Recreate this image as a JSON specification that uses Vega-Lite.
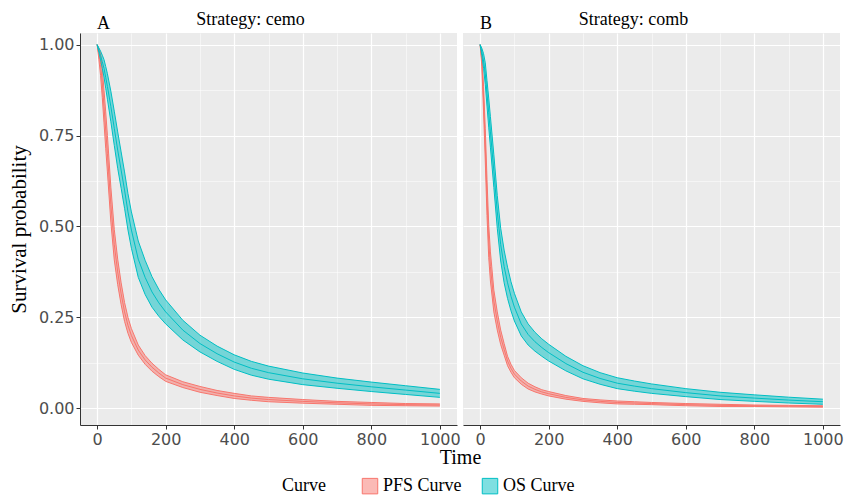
{
  "$schema": "https://vega.github.io/schema/vega-lite/v6.json",
  "padding": {"left": 8, "top": 10, "right": 0, "bottom": 0},
  "background": "#FFFFFF",
  "data": {"values": [
    {"strategy":"cemo","curve":"PFS Curve","time":0,"est":1,"lo":1,"hi":1},
    {"strategy":"cemo","curve":"PFS Curve","time":5,"est":0.975,"lo":0.96,"hi":0.99},
    {"strategy":"cemo","curve":"PFS Curve","time":10,"est":0.945,"lo":0.915,"hi":0.975},
    {"strategy":"cemo","curve":"PFS Curve","time":15,"est":0.895,"lo":0.855,"hi":0.935},
    {"strategy":"cemo","curve":"PFS Curve","time":20,"est":0.83,"lo":0.785,"hi":0.875},
    {"strategy":"cemo","curve":"PFS Curve","time":25,"est":0.765,"lo":0.715,"hi":0.815},
    {"strategy":"cemo","curve":"PFS Curve","time":30,"est":0.7,"lo":0.65,"hi":0.75},
    {"strategy":"cemo","curve":"PFS Curve","time":40,"est":0.56,"lo":0.512,"hi":0.608},
    {"strategy":"cemo","curve":"PFS Curve","time":50,"est":0.45,"lo":0.408,"hi":0.492},
    {"strategy":"cemo","curve":"PFS Curve","time":60,"est":0.375,"lo":0.34,"hi":0.41},
    {"strategy":"cemo","curve":"PFS Curve","time":70,"est":0.315,"lo":0.285,"hi":0.345},
    {"strategy":"cemo","curve":"PFS Curve","time":80,"est":0.265,"lo":0.239,"hi":0.291},
    {"strategy":"cemo","curve":"PFS Curve","time":90,"est":0.228,"lo":0.206,"hi":0.25},
    {"strategy":"cemo","curve":"PFS Curve","time":100,"est":0.2,"lo":0.181,"hi":0.219},
    {"strategy":"cemo","curve":"PFS Curve","time":120,"est":0.16,"lo":0.146,"hi":0.174},
    {"strategy":"cemo","curve":"PFS Curve","time":140,"est":0.133,"lo":0.121,"hi":0.145},
    {"strategy":"cemo","curve":"PFS Curve","time":160,"est":0.113,"lo":0.102,"hi":0.124},
    {"strategy":"cemo","curve":"PFS Curve","time":180,"est":0.097,"lo":0.087,"hi":0.107},
    {"strategy":"cemo","curve":"PFS Curve","time":200,"est":0.083,"lo":0.074,"hi":0.092},
    {"strategy":"cemo","curve":"PFS Curve","time":250,"est":0.065,"lo":0.057,"hi":0.073},
    {"strategy":"cemo","curve":"PFS Curve","time":300,"est":0.052,"lo":0.044,"hi":0.06},
    {"strategy":"cemo","curve":"PFS Curve","time":350,"est":0.042,"lo":0.035,"hi":0.049},
    {"strategy":"cemo","curve":"PFS Curve","time":400,"est":0.034,"lo":0.027,"hi":0.041},
    {"strategy":"cemo","curve":"PFS Curve","time":450,"est":0.028,"lo":0.022,"hi":0.034},
    {"strategy":"cemo","curve":"PFS Curve","time":500,"est":0.024,"lo":0.018,"hi":0.03},
    {"strategy":"cemo","curve":"PFS Curve","time":600,"est":0.019,"lo":0.014,"hi":0.024},
    {"strategy":"cemo","curve":"PFS Curve","time":700,"est":0.015,"lo":0.011,"hi":0.019},
    {"strategy":"cemo","curve":"PFS Curve","time":800,"est":0.012,"lo":0.008,"hi":0.016},
    {"strategy":"cemo","curve":"PFS Curve","time":900,"est":0.01,"lo":0.007,"hi":0.013},
    {"strategy":"cemo","curve":"PFS Curve","time":1000,"est":0.009,"lo":0.006,"hi":0.012},
    {"strategy":"cemo","curve":"OS Curve","time":0,"est":1,"lo":1,"hi":1},
    {"strategy":"cemo","curve":"OS Curve","time":5,"est":0.985,"lo":0.979,"hi":0.991},
    {"strategy":"cemo","curve":"OS Curve","time":10,"est":0.97,"lo":0.958,"hi":0.982},
    {"strategy":"cemo","curve":"OS Curve","time":15,"est":0.953,"lo":0.935,"hi":0.971},
    {"strategy":"cemo","curve":"OS Curve","time":20,"est":0.935,"lo":0.911,"hi":0.959},
    {"strategy":"cemo","curve":"OS Curve","time":25,"est":0.91,"lo":0.88,"hi":0.94},
    {"strategy":"cemo","curve":"OS Curve","time":30,"est":0.885,"lo":0.85,"hi":0.92},
    {"strategy":"cemo","curve":"OS Curve","time":40,"est":0.83,"lo":0.788,"hi":0.872},
    {"strategy":"cemo","curve":"OS Curve","time":50,"est":0.77,"lo":0.723,"hi":0.817},
    {"strategy":"cemo","curve":"OS Curve","time":60,"est":0.71,"lo":0.66,"hi":0.76},
    {"strategy":"cemo","curve":"OS Curve","time":70,"est":0.655,"lo":0.605,"hi":0.705},
    {"strategy":"cemo","curve":"OS Curve","time":80,"est":0.6,"lo":0.55,"hi":0.65},
    {"strategy":"cemo","curve":"OS Curve","time":90,"est":0.54,"lo":0.49,"hi":0.59},
    {"strategy":"cemo","curve":"OS Curve","time":100,"est":0.49,"lo":0.44,"hi":0.54},
    {"strategy":"cemo","curve":"OS Curve","time":120,"est":0.41,"lo":0.36,"hi":0.46},
    {"strategy":"cemo","curve":"OS Curve","time":140,"est":0.36,"lo":0.313,"hi":0.407},
    {"strategy":"cemo","curve":"OS Curve","time":160,"est":0.32,"lo":0.278,"hi":0.362},
    {"strategy":"cemo","curve":"OS Curve","time":180,"est":0.29,"lo":0.253,"hi":0.327},
    {"strategy":"cemo","curve":"OS Curve","time":200,"est":0.265,"lo":0.232,"hi":0.298},
    {"strategy":"cemo","curve":"OS Curve","time":250,"est":0.215,"lo":0.188,"hi":0.242},
    {"strategy":"cemo","curve":"OS Curve","time":300,"est":0.178,"lo":0.155,"hi":0.201},
    {"strategy":"cemo","curve":"OS Curve","time":350,"est":0.15,"lo":0.129,"hi":0.171},
    {"strategy":"cemo","curve":"OS Curve","time":400,"est":0.127,"lo":0.107,"hi":0.147},
    {"strategy":"cemo","curve":"OS Curve","time":450,"est":0.11,"lo":0.091,"hi":0.129},
    {"strategy":"cemo","curve":"OS Curve","time":500,"est":0.098,"lo":0.08,"hi":0.116},
    {"strategy":"cemo","curve":"OS Curve","time":600,"est":0.081,"lo":0.065,"hi":0.097},
    {"strategy":"cemo","curve":"OS Curve","time":700,"est":0.069,"lo":0.055,"hi":0.083},
    {"strategy":"cemo","curve":"OS Curve","time":800,"est":0.059,"lo":0.046,"hi":0.072},
    {"strategy":"cemo","curve":"OS Curve","time":900,"est":0.05,"lo":0.038,"hi":0.062},
    {"strategy":"cemo","curve":"OS Curve","time":1000,"est":0.041,"lo":0.03,"hi":0.052},
    {"strategy":"comb","curve":"PFS Curve","time":0,"est":1,"lo":1,"hi":1},
    {"strategy":"comb","curve":"PFS Curve","time":5,"est":0.955,"lo":0.94,"hi":0.97},
    {"strategy":"comb","curve":"PFS Curve","time":10,"est":0.85,"lo":0.815,"hi":0.885},
    {"strategy":"comb","curve":"PFS Curve","time":15,"est":0.725,"lo":0.68,"hi":0.77},
    {"strategy":"comb","curve":"PFS Curve","time":20,"est":0.58,"lo":0.53,"hi":0.63},
    {"strategy":"comb","curve":"PFS Curve","time":25,"est":0.46,"lo":0.415,"hi":0.505},
    {"strategy":"comb","curve":"PFS Curve","time":30,"est":0.39,"lo":0.35,"hi":0.43},
    {"strategy":"comb","curve":"PFS Curve","time":40,"est":0.295,"lo":0.265,"hi":0.325},
    {"strategy":"comb","curve":"PFS Curve","time":50,"est":0.24,"lo":0.215,"hi":0.265},
    {"strategy":"comb","curve":"PFS Curve","time":60,"est":0.195,"lo":0.175,"hi":0.215},
    {"strategy":"comb","curve":"PFS Curve","time":70,"est":0.162,"lo":0.146,"hi":0.178},
    {"strategy":"comb","curve":"PFS Curve","time":80,"est":0.13,"lo":0.117,"hi":0.143},
    {"strategy":"comb","curve":"PFS Curve","time":90,"est":0.11,"lo":0.099,"hi":0.121},
    {"strategy":"comb","curve":"PFS Curve","time":100,"est":0.094,"lo":0.084,"hi":0.104},
    {"strategy":"comb","curve":"PFS Curve","time":120,"est":0.075,"lo":0.066,"hi":0.084},
    {"strategy":"comb","curve":"PFS Curve","time":140,"est":0.061,"lo":0.053,"hi":0.069},
    {"strategy":"comb","curve":"PFS Curve","time":160,"est":0.052,"lo":0.045,"hi":0.059},
    {"strategy":"comb","curve":"PFS Curve","time":180,"est":0.045,"lo":0.039,"hi":0.051},
    {"strategy":"comb","curve":"PFS Curve","time":200,"est":0.04,"lo":0.034,"hi":0.046},
    {"strategy":"comb","curve":"PFS Curve","time":250,"est":0.03,"lo":0.025,"hi":0.035},
    {"strategy":"comb","curve":"PFS Curve","time":300,"est":0.023,"lo":0.019,"hi":0.027},
    {"strategy":"comb","curve":"PFS Curve","time":350,"est":0.019,"lo":0.015,"hi":0.023},
    {"strategy":"comb","curve":"PFS Curve","time":400,"est":0.016,"lo":0.012,"hi":0.02},
    {"strategy":"comb","curve":"PFS Curve","time":450,"est":0.0145,"lo":0.011,"hi":0.018},
    {"strategy":"comb","curve":"PFS Curve","time":500,"est":0.013,"lo":0.01,"hi":0.016},
    {"strategy":"comb","curve":"PFS Curve","time":600,"est":0.01,"lo":0.007,"hi":0.013},
    {"strategy":"comb","curve":"PFS Curve","time":700,"est":0.008,"lo":0.005,"hi":0.011},
    {"strategy":"comb","curve":"PFS Curve","time":800,"est":0.007,"lo":0.005,"hi":0.009},
    {"strategy":"comb","curve":"PFS Curve","time":900,"est":0.006,"lo":0.004,"hi":0.008},
    {"strategy":"comb","curve":"PFS Curve","time":1000,"est":0.005,"lo":0.003,"hi":0.007},
    {"strategy":"comb","curve":"OS Curve","time":0,"est":1,"lo":1,"hi":1},
    {"strategy":"comb","curve":"OS Curve","time":5,"est":0.98,"lo":0.97,"hi":0.99},
    {"strategy":"comb","curve":"OS Curve","time":10,"est":0.955,"lo":0.935,"hi":0.975},
    {"strategy":"comb","curve":"OS Curve","time":15,"est":0.92,"lo":0.89,"hi":0.95},
    {"strategy":"comb","curve":"OS Curve","time":20,"est":0.866,"lo":0.831,"hi":0.901},
    {"strategy":"comb","curve":"OS Curve","time":25,"est":0.813,"lo":0.773,"hi":0.853},
    {"strategy":"comb","curve":"OS Curve","time":30,"est":0.76,"lo":0.718,"hi":0.802},
    {"strategy":"comb","curve":"OS Curve","time":40,"est":0.652,"lo":0.607,"hi":0.697},
    {"strategy":"comb","curve":"OS Curve","time":50,"est":0.54,"lo":0.495,"hi":0.585},
    {"strategy":"comb","curve":"OS Curve","time":60,"est":0.45,"lo":0.405,"hi":0.495},
    {"strategy":"comb","curve":"OS Curve","time":70,"est":0.39,"lo":0.345,"hi":0.435},
    {"strategy":"comb","curve":"OS Curve","time":80,"est":0.345,"lo":0.302,"hi":0.388},
    {"strategy":"comb","curve":"OS Curve","time":90,"est":0.308,"lo":0.268,"hi":0.348},
    {"strategy":"comb","curve":"OS Curve","time":100,"est":0.278,"lo":0.24,"hi":0.316},
    {"strategy":"comb","curve":"OS Curve","time":120,"est":0.232,"lo":0.199,"hi":0.265},
    {"strategy":"comb","curve":"OS Curve","time":140,"est":0.203,"lo":0.174,"hi":0.232},
    {"strategy":"comb","curve":"OS Curve","time":160,"est":0.183,"lo":0.157,"hi":0.209},
    {"strategy":"comb","curve":"OS Curve","time":180,"est":0.167,"lo":0.143,"hi":0.191},
    {"strategy":"comb","curve":"OS Curve","time":200,"est":0.153,"lo":0.13,"hi":0.176},
    {"strategy":"comb","curve":"OS Curve","time":250,"est":0.123,"lo":0.103,"hi":0.143},
    {"strategy":"comb","curve":"OS Curve","time":300,"est":0.099,"lo":0.081,"hi":0.117},
    {"strategy":"comb","curve":"OS Curve","time":350,"est":0.082,"lo":0.066,"hi":0.098},
    {"strategy":"comb","curve":"OS Curve","time":400,"est":0.069,"lo":0.054,"hi":0.084},
    {"strategy":"comb","curve":"OS Curve","time":450,"est":0.061,"lo":0.047,"hi":0.075},
    {"strategy":"comb","curve":"OS Curve","time":500,"est":0.054,"lo":0.041,"hi":0.067},
    {"strategy":"comb","curve":"OS Curve","time":600,"est":0.043,"lo":0.032,"hi":0.054},
    {"strategy":"comb","curve":"OS Curve","time":700,"est":0.034,"lo":0.024,"hi":0.044},
    {"strategy":"comb","curve":"OS Curve","time":800,"est":0.028,"lo":0.019,"hi":0.037},
    {"strategy":"comb","curve":"OS Curve","time":900,"est":0.0225,"lo":0.0145,"hi":0.0305},
    {"strategy":"comb","curve":"OS Curve","time":1000,"est":0.018,"lo":0.011,"hi":0.025}
  ]},
  "config": {
    "view": {"fill": "#EBEBEB", "stroke": null},
    "font": "Liberation Serif",
    "title": {"font": "Liberation Serif", "fontSize": 18, "fontWeight": "normal", "color": "#000000"},
    "axis": {
      "domainColor": "#333333", "domainWidth": 1,
      "tickColor": "#333333", "tickSize": 4, "tickWidth": 1,
      "labelFont": "DejaVu Sans", "labelFontSize": 16, "labelColor": "#4D4D4D", "labelPadding": 2,
      "titleFont": "Liberation Serif", "titleFontSize": 21, "titleFontWeight": "normal", "titleColor": "#000000",
      "gridColor": "#FFFFFF", "gridOpacity": 1
    },
    "legend": {
      "titleFont": "Liberation Serif", "titleFontSize": 18, "titleFontWeight": "normal", "titleColor": "#000000",
      "labelFont": "Liberation Serif", "labelFontSize": 18, "labelColor": "#000000"
    }
  },
  "bounds": "flush",
  "spacing": 6,
  "hconcat": [
    {
      "width": 377, "height": 392,
      "title": {"text": "A", "anchor": "start", "frame": "group", "dx": 17, "offset": -23},
      "transform": [{"filter": "datum.strategy === 'cemo'"}],
      "encoding": {
        "color": {"field": "curve", "type": "nominal",
          "scale": {"domain": ["PFS Curve", "OS Curve"], "range": ["#F8766D", "#00BFC4"]},
          "legend": {"title": "Curve", "orient": "none", "direction": "horizontal", "titleOrient": "left",
            "legendX": 202, "legendY": 444, "symbolType": "square", "symbolSize": 240,
            "titlePadding": 35, "columnPadding": 18, "labelOffset": 4,
            "encode": {"symbols": {"update": {"fillOpacity": {"value": 0.5}, "stroke": {"scale": "color", "field": "value"}, "strokeWidth": {"value": 1}}}}}}
      },
      "layer": [
        {"mark": {"type": "area", "fillOpacity": 0.5},
         "encoding": {
           "x": {"field": "time", "type": "quantitative",
             "scale": {"domain": [-50, 1050], "nice": false, "zero": false},
             "axis": {"orient": "bottom", "title": "Time", "titleX": 380, "titlePadding": 0, "titleFontSize": 20,
               "values": [0,100,200,300,400,500,600,700,800,900,1000],
               "labelExpr": "datum.value % 200 === 0 ? datum.label : ''",
               "format": "d",
               "gridWidth": {"condition": {"test": "datum.value % 200 === 0", "value": 1.2}, "value": 0.5},
               "tickOpacity": {"condition": {"test": "datum.value % 200 === 0", "value": 1}, "value": 0}}},
           "y": {"field": "lo", "type": "quantitative", "stack": null,
             "scale": {"domain": [-0.046, 1.032], "nice": false, "zero": false},
             "axis": {"orient": "left", "title": "Survival probability", "titlePadding": 9,
               "values": [0,0.125,0.25,0.375,0.5,0.625,0.75,0.875,1],
               "labelExpr": "(datum.value*4)%1 === 0 ? format(datum.value, '.2f') : ''",
               "gridWidth": {"condition": {"test": "(datum.value*4)%1 === 0", "value": 1.2}, "value": 0.5},
               "tickOpacity": {"condition": {"test": "(datum.value*4)%1 === 0", "value": 1}, "value": 0}}},
           "y2": {"field": "hi"}}},
        {"transform": [{"fold": ["lo", "hi", "est"], "as": ["band", "value"]}],
         "mark": {"type": "line", "strokeWidth": 1},
         "encoding": {
           "x": {"field": "time", "type": "quantitative",
             "axis": {"orient": "top", "title": "Strategy: cemo", "titleX": 170, "titleAlign": "center",
               "titleFontSize": 18, "titlePadding": 5, "labels": false, "ticks": false, "domain": false, "grid": false}},
           "y": {"field": "value", "type": "quantitative", "stack": null,
             "axis": {"orient": "left", "title": "Survival probability", "titlePadding": 9,
               "values": [0,0.125,0.25,0.375,0.5,0.625,0.75,0.875,1],
               "labelExpr": "(datum.value*4)%1 === 0 ? format(datum.value, '.2f') : ''",
               "gridWidth": {"condition": {"test": "(datum.value*4)%1 === 0", "value": 1.2}, "value": 0.5},
               "tickOpacity": {"condition": {"test": "(datum.value*4)%1 === 0", "value": 1}, "value": 0}}},
           "detail": {"field": "band", "type": "nominal"}}}
      ]
    },
    {
      "width": 377, "height": 392,
      "title": {"text": "B", "anchor": "start", "frame": "group", "dx": 17, "offset": -23},
      "transform": [{"filter": "datum.strategy === 'comb'"}],
      "encoding": {
        "color": {"field": "curve", "type": "nominal",
          "scale": {"domain": ["PFS Curve", "OS Curve"], "range": ["#F8766D", "#00BFC4"]},
          "legend": {"title": "Curve", "orient": "none", "direction": "horizontal", "titleOrient": "left",
            "legendX": 202, "legendY": 444, "symbolType": "square", "symbolSize": 240,
            "titlePadding": 35, "columnPadding": 18, "labelOffset": 4,
            "encode": {"symbols": {"update": {"fillOpacity": {"value": 0.5}, "stroke": {"scale": "color", "field": "value"}, "strokeWidth": {"value": 1}}}}}}
      },
      "layer": [
        {"mark": {"type": "area", "fillOpacity": 0.5},
         "encoding": {
           "x": {"field": "time", "type": "quantitative",
             "scale": {"domain": [-50, 1050], "nice": false, "zero": false},
             "axis": {"orient": "bottom", "title": null,
               "values": [0,100,200,300,400,500,600,700,800,900,1000],
               "labelExpr": "datum.value % 200 === 0 ? datum.label : ''",
               "format": "d",
               "gridWidth": {"condition": {"test": "datum.value % 200 === 0", "value": 1.2}, "value": 0.5},
               "tickOpacity": {"condition": {"test": "datum.value % 200 === 0", "value": 1}, "value": 0}}},
           "y": {"field": "lo", "type": "quantitative", "stack": null,
             "scale": {"domain": [-0.046, 1.032], "nice": false, "zero": false},
             "axis": {"orient": "left", "title": null, "labels": false, "ticks": false, "domain": false,
               "values": [0,0.125,0.25,0.375,0.5,0.625,0.75,0.875,1],
               "gridWidth": {"condition": {"test": "(datum.value*4)%1 === 0", "value": 1.2}, "value": 0.5}}},
           "y2": {"field": "hi"}}},
        {"transform": [{"fold": ["lo", "hi", "est"], "as": ["band", "value"]}],
         "mark": {"type": "line", "strokeWidth": 1},
         "encoding": {
           "x": {"field": "time", "type": "quantitative",
             "axis": {"orient": "top", "title": "Strategy: comb", "titleX": 170, "titleAlign": "center",
               "titleFontSize": 18, "titlePadding": 5, "labels": false, "ticks": false, "domain": false, "grid": false}},
           "y": {"field": "value", "type": "quantitative", "stack": null,
             "axis": {"orient": "left", "title": null, "labels": false, "ticks": false, "domain": false,
               "values": [0,0.125,0.25,0.375,0.5,0.625,0.75,0.875,1],
               "gridWidth": {"condition": {"test": "(datum.value*4)%1 === 0", "value": 1.2}, "value": 0.5}}},
           "detail": {"field": "band", "type": "nominal"}}}
      ]
    }
  ]
}
